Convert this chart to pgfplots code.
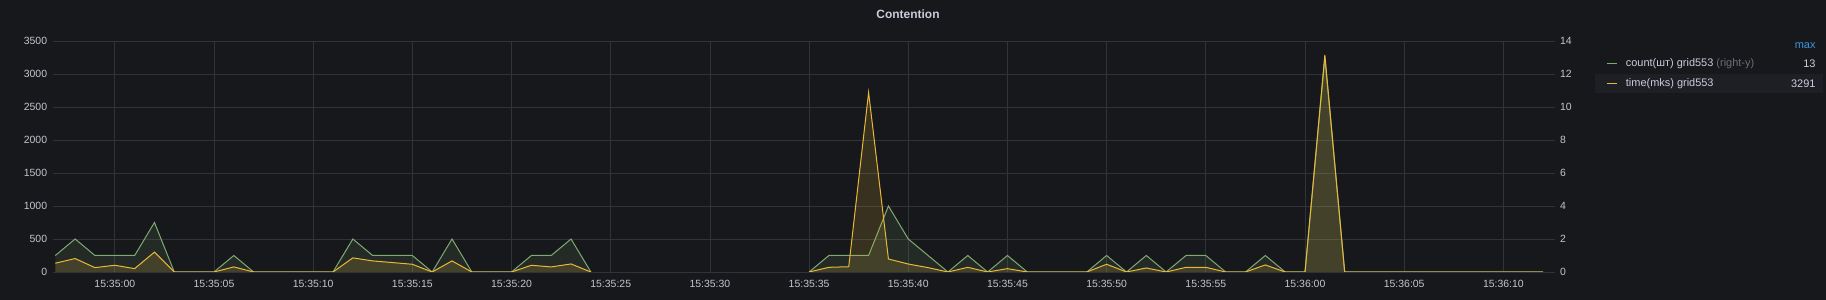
\documentclass[border=0pt]{standalone}
\usepackage{fontspec}
\setmainfont{Liberation Sans}
\usepackage{pgfplots}
\pgfplotsset{compat=1.18}
\definecolor{bg}{HTML}{17181C}
\definecolor{gridc}{HTML}{303338}
\definecolor{txt}{HTML}{CCCCDC}
\definecolor{tickc}{HTML}{C4C6CC}
\definecolor{gcol}{HTML}{7EB26D}
\definecolor{ycol}{HTML}{EAB839}
\definecolor{maxblue}{HTML}{3D95E0}
\definecolor{dimc}{HTML}{6B6E76}
\definecolor{rowbg}{HTML}{1D1F24}

\pgfplotsset{
  base/.style={
    scale only axis, width=1501.7bp, height=231bp,
    at={(53.3bp,28bp)}, anchor=south west,
    xmin=-3.1, xmax=72.6, ymin=0,
    axis line style={draw=none},
    major tick length=0pt,
    tick label style={font=\fontsize{10.5}{12}\selectfont, text=tickc},
    /pgf/number format/assume math mode=true,
    /pgf/number format/1000 sep={},
  }
}

\begin{document}
\begin{tikzpicture}
\fill[bg] (0,0) rectangle (1826bp,300bp);
\fill[rowbg] (1595bp,206.7bp) rectangle (1823bp,225.7bp);

% right axis: count (green), grid
\begin{axis}[base,
  ymax=14,
  ytick={0,2,...,14},
  yticklabel pos=right,
  yticklabel style={anchor=west, inner sep=0pt, xshift=5bp},
  xtick={0,5,...,70},
  xticklabels={15:35:00,15:35:05,15:35:10,15:35:15,15:35:20,15:35:25,15:35:30,15:35:35,15:35:40,15:35:45,15:35:50,15:35:55,15:36:00,15:36:05,15:36:10},
  xticklabel style={anchor=north, inner sep=0pt, yshift=-8bp},
  grid=major,
  grid style={gridc, line width=0.8bp},
]
\addplot[draw=none, fill=gcol, fill opacity=0.13] coordinates {
(-3,1) (-2,2) (-1,1) (0,1) (1,1) (2,3) (3,0) (4,0) (5,0) (6,1) (7,0) (8,0) (9,0) (10,0) (11,0) (12,2) (13,1) (14,1) (15,1) (16,0) (17,2) (18,0) (19,0) (20,0) (21,1) (22,1) (23,2) (24,0)
} \closedcycle;
\addplot[draw=none, fill=gcol, fill opacity=0.13] coordinates {
(35,0) (36,1) (37,1) (38,1) (39,4) (40,2) (41,1) (42,0) (43,1) (44,0) (45,1) (46,0) (47,0) (48,0) (49,0) (50,1) (51,0) (52,1) (53,0) (54,1) (55,1) (56,0) (57,0) (58,1) (59,0) (60,0) (61,13) (62,0) (63,0) (64,0) (65,0) (66,0) (67,0) (68,0) (69,0) (70,0) (71,0) (72,0)
} \closedcycle;
\addplot[gcol!85!gray, line width=1bp] coordinates {
(-3,1) (-2,2) (-1,1) (0,1) (1,1) (2,3) (3,0) (4,0) (5,0) (6,1) (7,0) (8,0) (9,0) (10,0) (11,0) (12,2) (13,1) (14,1) (15,1) (16,0) (17,2) (18,0) (19,0) (20,0) (21,1) (22,1) (23,2) (24,0)
};
\addplot[gcol!85!gray, line width=1bp] coordinates {
(35,0) (36,1) (37,1) (38,1) (39,4) (40,2) (41,1) (42,0) (43,1) (44,0) (45,1) (46,0) (47,0) (48,0) (49,0) (50,1) (51,0) (52,1) (53,0) (54,1) (55,1) (56,0) (57,0) (58,1) (59,0) (60,0) (61,13) (62,0) (63,0) (64,0) (65,0) (66,0) (67,0) (68,0) (69,0) (70,0) (71,0) (72,0)
};
\node[rotate=-90, text=tickc, font=\fontsize{10.5}{12}\selectfont, inner sep=0pt] at (axis description cs:1.0186,0.475) {шт};
\end{axis}

% left axis: time (yellow)
\begin{axis}[base,
  ymax=3500,
  ytick={0,500,...,3500},
  yticklabel style={anchor=east, inner sep=0pt, xshift=-6bp},
  xtick=\empty,
]
\addplot[draw=none, fill=ycol, fill opacity=0.16] coordinates {
(-3,133) (-2,204) (-1,66) (0,102) (1,51) (2,301) (3,0) (4,0) (5,0) (6,77) (7,0) (8,0) (9,0) (10,0) (11,0) (12,214) (13,168) (14,143) (15,117) (16,0) (17,168) (18,0) (19,0) (20,0) (21,102) (22,77) (23,122) (24,0)
} \closedcycle;
\addplot[draw=none, fill=ycol, fill opacity=0.16] coordinates {
(35,0) (36,71) (37,80) (38,2720) (39,197) (40,121) (41,66) (42,0) (43,71) (44,0) (45,51) (46,0) (47,0) (48,0) (49,0) (50,117) (51,0) (52,61) (53,0) (54,71) (55,71) (56,0) (57,0) (58,107) (59,0) (60,0) (61,3291) (62,0) (63,0) (64,0) (65,0) (66,0) (67,0) (68,0) (69,0) (70,0) (71,0) (72,0)
} \closedcycle;
\addplot[ycol, line width=1bp] coordinates {
(-3,133) (-2,204) (-1,66) (0,102) (1,51) (2,301) (3,0) (4,0) (5,0) (6,77) (7,0) (8,0) (9,0) (10,0) (11,0) (12,214) (13,168) (14,143) (15,117) (16,0) (17,168) (18,0) (19,0) (20,0) (21,102) (22,77) (23,122) (24,0)
};
\addplot[ycol, line width=1bp] coordinates {
(35,0) (36,71) (37,80) (38,2720) (39,197) (40,121) (41,66) (42,0) (43,71) (44,0) (45,51) (46,0) (47,0) (48,0) (49,0) (50,117) (51,0) (52,61) (53,0) (54,71) (55,71) (56,0) (57,0) (58,107) (59,0) (60,0) (61,3291) (62,0) (63,0) (64,0) (65,0) (66,0) (67,0) (68,0) (69,0) (70,0) (71,0) (72,0)
};
\node[rotate=90, text=tickc, font=\fontsize{10.5}{12}\selectfont, inner sep=0pt] at (axis description cs:-0.0275,0.475) {mks};
\end{axis}

% title
\node[text=txt, font=\fontsize{12}{14}\selectfont\bfseries, inner sep=0pt] at (908bp,286bp) {Contention};

% legend
\node[text=maxblue, font=\fontsize{11}{13}\selectfont, anchor=east, inner sep=0pt] at (1815.7bp,254.3bp) {max};
\draw[gcol!85!gray, line width=1.3bp] (1606.7bp,236.7bp) -- (1616.7bp,236.7bp);
\node[text=txt, font=\fontsize{11}{13}\selectfont, anchor=west, inner sep=0pt] at (1625.7bp,236.7bp) {count(шт) grid553 \textcolor{dimc}{(right-y)}};
\node[text=txt, font=\fontsize{11}{13}\selectfont, anchor=east, inner sep=0pt] at (1815.7bp,236.7bp) {13};
\draw[ycol, line width=1.3bp] (1606.7bp,216.7bp) -- (1616.7bp,216.7bp);
\node[text=txt, font=\fontsize{11}{13}\selectfont, anchor=west, inner sep=0pt] at (1625.7bp,216.7bp) {time(mks) grid553};
\node[text=txt, font=\fontsize{11}{13}\selectfont, anchor=east, inner sep=0pt] at (1815.7bp,216.7bp) {3291};

\pgfresetboundingbox
\path (0,0) rectangle (1826bp,300bp);
\end{tikzpicture}
\end{document}
